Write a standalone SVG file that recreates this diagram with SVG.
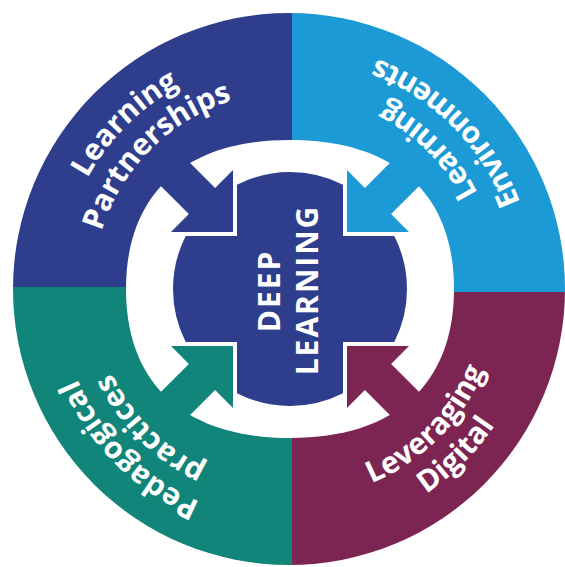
<svg xmlns="http://www.w3.org/2000/svg" width="565" height="567" viewBox="0 0 565 567">
<style>
.navy{fill:#2e3e8d}
.cyan{fill:#1c9ad6}
.maroon{fill:#7c2452}
.teal{fill:#118579}
.lbl{font-family:"Open Sans","Liberation Sans",sans-serif;font-weight:700;font-size:30px;letter-spacing:0px;fill:#ffffff}
.ctr{font-family:"Open Sans","Liberation Sans",sans-serif;font-weight:700;font-size:30px;letter-spacing:2px;fill:#ffffff}
</style>
<defs>
<clipPath id="outer"><circle cx="289" cy="289" r="276"/></clipPath>
<mask id="hole" maskUnits="userSpaceOnUse" x="0" y="0" width="565" height="567">
<rect x="0" y="0" width="565" height="567" fill="#fff"/>
<path d="M454,289 C454,384.4 395,438 290,438 C185,438 126,384.4 126,289 C126,193.6 185,140 290,140 C395,140 454,193.6 454,289 Z" fill="#000"/>
</mask>
<polygon id="arrow" points="-57,-57 -57,-119 -74.9,-101.1 -128.3,-154.5 -154.5,-128.3 -101.1,-74.9 -119,-57"/>
<path id="p-tl-out" d="M100.8,421.5 A231,231 0 0 1 422.5,99.8"/>
<path id="p-tl-in" d="M128.6,402 A197,197 0 0 1 403,127.6"/>
<path id="p-bl-out" d="M422.5,478.2 A231,231 0 0 1 100.8,156.5"/>
<path id="p-bl-in" d="M403,450.4 A197,197 0 0 1 128.6,176"/>
<path id="p-tr-in" d="M462.8,410 A211,211 0 0 0 169,116.2"/>
<path id="p-tr-out" d="M491.5,430.1 A246,246 0 0 0 148.9,87.5"/>
<path id="p-br-in" d="M169,461.8 A211,211 0 0 0 462.8,168"/>
<path id="p-br-out" d="M148.9,490.5 A246,246 0 0 0 491.5,147.9"/>
</defs>
<rect x="0" y="0" width="565" height="567" fill="#ffffff"/>

<g id="learning-partnerships">
<rect x="0" y="0" width="292" height="287" class="navy" clip-path="url(#outer)" mask="url(#hole)"/>
<use href="#arrow" transform="translate(290,289)" class="navy"/>
<text class="lbl"><textPath href="#p-tl-out" startOffset="50%" text-anchor="middle">Learning</textPath></text>
<text class="lbl"><textPath href="#p-tl-in" startOffset="50%" text-anchor="middle">Partnerships</textPath></text>
</g>

<g id="learning-environments">
<rect x="292" y="0" width="273" height="292" class="cyan" clip-path="url(#outer)" mask="url(#hole)"/>
<use href="#arrow" transform="translate(290,289) rotate(90)" class="cyan"/>
<text class="lbl"><textPath href="#p-tr-in" startOffset="50%" text-anchor="middle">Learning</textPath></text>
<text class="lbl"><textPath href="#p-tr-out" startOffset="50%" text-anchor="middle">Environments</textPath></text>
</g>

<g id="leveraging-digital">
<rect x="292" y="292" width="273" height="275" class="maroon" clip-path="url(#outer)" mask="url(#hole)"/>
<use href="#arrow" transform="translate(290,289) rotate(180)" class="maroon"/>
<text class="lbl"><textPath href="#p-br-in" startOffset="50%" text-anchor="middle">Leveraging</textPath></text>
<text class="lbl"><textPath href="#p-br-out" startOffset="50%" text-anchor="middle">Digital</textPath></text>
</g>

<g id="pedagogical-practices">
<rect x="0" y="287" width="292" height="280" class="teal" clip-path="url(#outer)" mask="url(#hole)"/>
<use href="#arrow" transform="translate(290,289) rotate(270)" class="teal"/>
<text class="lbl"><textPath href="#p-bl-out" startOffset="50%" text-anchor="middle">Pedagogical</textPath></text>
<text class="lbl"><textPath href="#p-bl-in" startOffset="50%" text-anchor="middle">practices</textPath></text>
</g>

<g id="deep-learning">
<path class="navy" transform="translate(290,289)" d="M-53,-104.3 A117,117 0 0 1 53,-104.3 L53,-53 L104.3,-53 A117,117 0 0 1 104.3,53 L53,53 L53,104.3 A117,117 0 0 1 -53,104.3 L-53,53 L-104.3,53 A117,117 0 0 1 -104.3,-53 L-53,-53 Z"/>
<text class="ctr" transform="translate(280,291) rotate(-90)" text-anchor="middle">DEEP</text>
<text class="ctr" transform="translate(318,290) rotate(-90)" text-anchor="middle">LEARNING</text>
</g>
</svg>
